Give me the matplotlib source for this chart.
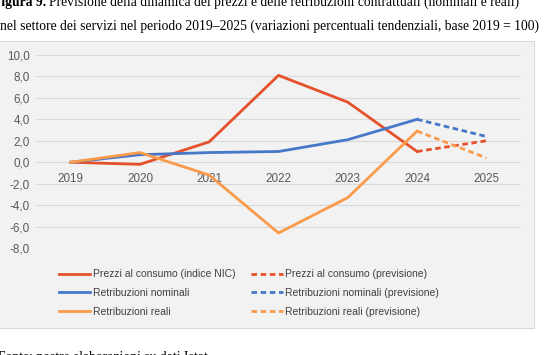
import matplotlib.pyplot as plt
from matplotlib.patches import Rectangle
from matplotlib.lines import Line2D

# Dati (variazioni percentuali, base 2019)
anni = ["2019", "2020", "2021", "2022", "2023", "2024", "2025"]
prezzi = [0.0, -0.2, 1.9, 8.1, 5.6, 1.0]
prezzi_prev = [1.0, 2.0]
retr_nominali = [0.0, 0.7, 0.9, 1.0, 2.1, 4.0]
retr_nominali_prev = [4.0, 2.4]
retr_reali = [0.0, 0.9, -1.2, -6.6, -3.3, 2.9]
retr_reali_prev = [2.9, 0.4]
y_ticks = [-8, -6, -4, -2, 0, 2, 4, 6, 8, 10]

rosso, blu, arancio = '#E4512B', '#4677C8', '#FA9A4B'
grigio_testo = '#595959'

fig = plt.figure(figsize=(5.6, 3.55), dpi=100)
W, H = 560, 355

# pannello grigio del grafico
fig.patches.append(Rectangle((-5 / W, 1 - 328 / H), 539 / W, 287 / H,
                             transform=fig.transFigure, facecolor='#f2f2f2',
                             edgecolor='#d9d9d9', linewidth=0.8, zorder=-1))

ax = fig.add_axes([36 / W, 1 - 248 / H, 485 / W, 193 / H])
ax.set_facecolor('none')
ax.set_xlim(-0.5, 6.5)
ax.set_ylim(-8, 10)
ax.set_yticks(y_ticks)
ax.set_yticklabels([f"{v:.1f}".replace('.', ',') for v in y_ticks],
                   fontsize=8.4, color=grigio_testo, family='Liberation Sans')
ax.tick_params(axis='y', length=0, pad=4.5)
ax.set_xticks([])
for s in ax.spines.values():
    s.set_visible(False)
ax.grid(axis='y', color='#d9d9d9', linewidth=0.8)
ax.set_axisbelow(True)

x_obs = list(range(len(prezzi)))
x_prev = [5, 6]
lw = 2.0
dash = (2.0, 1.3)
ax.plot(x_obs, prezzi, color=rosso, lw=lw)
ax.plot(x_obs, retr_nominali, color=blu, lw=lw)
ax.plot(x_obs, retr_reali, color=arancio, lw=lw)
ax.plot(x_prev, prezzi_prev, color=rosso, lw=lw, dashes=dash)
ax.plot(x_prev, retr_nominali_prev, color=blu, lw=lw, dashes=dash)
ax.plot(x_prev, retr_reali_prev, color=arancio, lw=lw, dashes=dash)

for i, a in enumerate(anni):
    ax.annotate(a, (i, 0), xytext=(0, -7.5), textcoords='offset points',
                ha='center', va='top', fontsize=8.4, color=grigio_testo,
                family='Liberation Sans', zorder=1)

handles = [
    Line2D([], [], color=rosso, lw=lw),
    Line2D([], [], color=blu, lw=lw),
    Line2D([], [], color=arancio, lw=lw),
    Line2D([], [], color=rosso, lw=lw, dashes=dash),
    Line2D([], [], color=blu, lw=lw, dashes=dash),
    Line2D([], [], color=arancio, lw=lw, dashes=dash),
]
labels = [
    "Prezzi al consumo (indice NIC)",
    "Retribuzioni nominali",
    "Retribuzioni reali",
    "Prezzi al consumo (previsione)",
    "Retribuzioni nominali (previsione)",
    "Retribuzioni reali (previsione)",
]
leg = fig.legend(handles, labels, ncol=2, frameon=False,
                 loc='upper left', bbox_to_anchor=(54 / W, 1 - 264 / H),
                 prop={'family': 'Liberation Sans', 'size': 7.5},
                 handlelength=3.0, handletextpad=0.2, labelspacing=0.85,
                 columnspacing=1.55, borderpad=0)
for t in leg.get_texts():
    t.set_color('#404040')

# titolo (tagliato in alto, come nella pagina)
fs_tit = 9.8
t_bold = fig.text(-7 / W, 1 - 6 / H, "Figura 9.", fontsize=fs_tit,
                  family='Liberation Serif', weight='bold', va='baseline', ha='left')
fig.canvas.draw()
bb = t_bold.get_window_extent()
fig.text((bb.x1 + 3) / W, 1 - 6 / H,
         "Previsione della dinamica dei prezzi e delle retribuzioni contrattuali (nominali e reali)",
         fontsize=fs_tit, family='Liberation Serif', va='baseline', ha='left')
fig.text(0, 1 - 30 / H,
         "nel settore dei servizi nel periodo 2019\u20132025 (variazioni percentuali tendenziali, base 2019 = 100)",
         fontsize=fs_tit, family='Liberation Serif', va='baseline', ha='left')
fig.text(-2 / W, 1 - 351 / H, "Fonte: nostre elaborazioni su dati Istat",
         fontsize=fs_tit, family='Liberation Serif', va='top', ha='left')

fig.savefig('out.png', dpi=100)
